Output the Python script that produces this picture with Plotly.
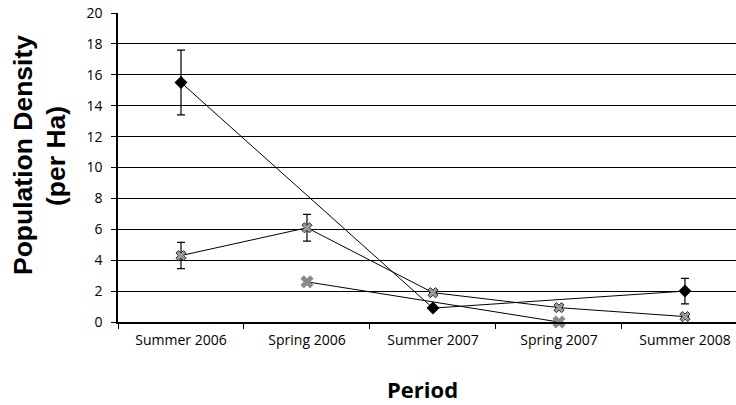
import plotly.graph_objects as go

periods = ["Summer 2006", "Spring 2006", "Summer 2007", "Spring 2007", "Summer 2008"]
series_a = [15.5, None, 0.9, None, 2.0]
series_a_err = [2.1, None, 0, None, 0.83]
series_b = [4.3, 6.1, 1.9, 0.93, 0.35]
series_b_err = [0.85, 0.87, 0, 0, 0]
series_c = [None, 2.6, None, 0.0, None]

y_ticks = list(range(0, 21, 2))

fig = go.Figure()
fig.add_trace(go.Scatter(
    x=periods, y=series_a, mode="lines+markers", connectgaps=True, cliponaxis=False,
    line=dict(color="black", width=1),
    marker=dict(symbol="diamond", size=10, color="black"),
    error_y=dict(type="data", array=series_a_err, color="black", thickness=1.2, width=4),
))
fig.add_trace(go.Scatter(
    x=periods, y=series_b, mode="lines+markers", connectgaps=True, cliponaxis=False,
    line=dict(color="black", width=1),
    marker=dict(symbol="x", size=9, color="#9a9a9a", line=dict(color="#333333", width=1)),
    error_y=dict(type="data", array=series_b_err, color="black", thickness=1.2, width=4),
))
fig.add_trace(go.Scatter(
    x=periods, y=series_c, mode="lines+markers", connectgaps=True, cliponaxis=False,
    line=dict(color="black", width=1),
    marker=dict(symbol="x", size=11, color="#8a8a8a", line=dict(color="#777777", width=0.5)),
))

fig.update_layout(
    width=736, height=405,
    margin=dict(l=118, r=0, t=13, b=83),
    paper_bgcolor="white", plot_bgcolor="white",
    showlegend=False,
    font=dict(family="Open Sans", color="black", size=14),
    xaxis=dict(
        type="category", categoryorder="array", categoryarray=periods,
        range=[-0.5, 4.405], tickson="boundaries",
        ticks="outside", ticklen=5, tickcolor="black",
        showline=True, linecolor="black", linewidth=1.5,
        showgrid=False, zeroline=False, ticklabelstandoff=4,
        tickfont=dict(family="Open Sans", size=14),
    ),
    yaxis=dict(
        range=[0, 20], tickvals=y_ticks,
        ticks="outside", ticklen=5, tickcolor="black",
        showline=True, linecolor="black", linewidth=1.5,
        showgrid=True, gridcolor="black", gridwidth=1,
        zeroline=False, ticklabelstandoff=6,
        tickfont=dict(family="Open Sans", size=14),
    ),
    annotations=[
        dict(text="<b>Population Density</b>", textangle=-90,
             xref="paper", yref="paper", x=(23 - 118) / 618, y=(322 - 155) / 309,
             xanchor="center", yanchor="middle", showarrow=False,
             font=dict(family="Liberation Sans", size=26.5, color="black")),
        dict(text="<b>(per Ha)</b>", textangle=-90,
             xref="paper", yref="paper", x=(56 - 118) / 618, y=(322 - 156) / 309,
             xanchor="center", yanchor="middle", showarrow=False,
             font=dict(family="Liberation Sans", size=26.5, color="black")),
        dict(text="<b>Period</b>", xref="paper", yref="paper",
             x=(422 - 118) / 618, y=-(389 - 322) / 309, xanchor="center", yanchor="middle",
             showarrow=False, font=dict(family="Open Sans", size=22, color="black")),
    ],
)

fig.write_html("out.html")
